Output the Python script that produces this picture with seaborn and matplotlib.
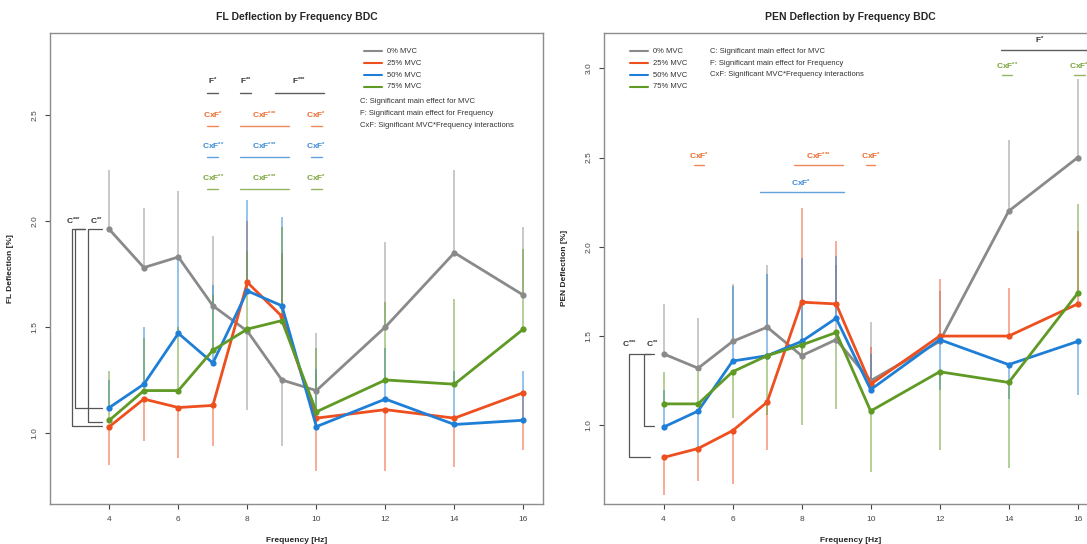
import numpy as np
import pandas as pd
import matplotlib
matplotlib.use("Agg")
import matplotlib.pyplot as plt
import seaborn as sns

# frequencies and MVC levels
freqs = [4, 5, 6, 7, 8, 9, 10, 12, 14, 16]
levels = ["0% MVC", "25% MVC", "50% MVC", "75% MVC"]
colors = ["#8a8a8a", "#ee4f1f", "#1f7fd6", "#5f9a25"]

# FL deflection means [%]
fl_0 = [1.96, 1.78, 1.83, 1.60, 1.48, 1.25, 1.20, 1.50, 1.85, 1.65]
fl_25 = [1.03, 1.16, 1.12, 1.13, 1.71, 1.55, 1.07, 1.11, 1.07, 1.19]
fl_50 = [1.12, 1.23, 1.47, 1.33, 1.67, 1.60, 1.03, 1.16, 1.04, 1.06]
fl_75 = [1.06, 1.20, 1.20, 1.39, 1.49, 1.53, 1.10, 1.25, 1.23, 1.49]
# FL error bar ends (one-sided bars)
fl_0_end = [2.24, 2.06, 2.14, 1.93, 1.11, 0.94, 1.47, 1.90, 2.24, 1.97]
fl_25_end = [0.85, 0.96, 0.88, 0.94, 2.00, 1.85, 0.82, 0.82, 0.84, 0.92]
fl_50_end = [1.25, 1.50, 1.83, 1.70, 2.10, 2.02, 1.30, 1.40, 1.29, 1.29]
fl_75_end = [1.29, 1.45, 1.50, 1.65, 1.86, 1.97, 1.40, 1.62, 1.63, 1.87]

# PEN deflection means [%]
pen_0 = [1.40, 1.32, 1.47, 1.55, 1.39, 1.48, 1.25, 1.47, 2.20, 2.50]
pen_25 = [0.82, 0.87, 0.97, 1.13, 1.69, 1.68, 1.23, 1.50, 1.50, 1.68]
pen_50 = [0.99, 1.08, 1.36, 1.39, 1.47, 1.60, 1.20, 1.48, 1.34, 1.47]
pen_75 = [1.12, 1.12, 1.30, 1.39, 1.45, 1.52, 1.08, 1.30, 1.24, 1.74]
# PEN error bar ends
pen_0_end = [1.68, 1.60, 1.79, 1.90, 1.70, 1.90, 1.58, 1.75, 2.60, 2.94]
pen_25_end = [0.61, 0.69, 0.67, 0.86, 2.22, 2.03, 1.44, 1.82, 1.77, 2.09]
pen_50_end = [1.20, 0.85, 1.78, 1.85, 1.94, 1.95, 1.40, 1.20, 1.15, 1.17]
pen_75_end = [1.30, 1.30, 1.04, 1.06, 1.00, 1.09, 0.74, 0.86, 0.76, 2.24]


def sup(base, n):
    # braces around each star stop mathtext from spacing them as operators
    return base + "$^{" + "{*}" * n + "}$"


# significance annotations: text, x, line from, line to, text y, line y, colour
fl_annot = [
    (sup("F", 1), 7.0, 6.83, 7.15, 2.657, 2.604, "#333333"),
    (sup("F", 2), 7.95, 7.8, 8.1, 2.657, 2.604, "#333333"),
    (sup("F", 3), 9.5, 8.8, 10.22, 2.657, 2.604, "#333333"),
    (sup("CxF", 1), 7.0, 6.83, 7.15, 2.50, 2.45, "#ec6a2e"),
    (sup("CxF", 3), 8.5, 7.79, 9.2, 2.50, 2.45, "#ec6a2e"),
    (sup("CxF", 1), 9.98, 9.84, 10.15, 2.50, 2.45, "#ec6a2e"),
    (sup("CxF", 2), 7.0, 6.83, 7.15, 2.35, 2.30, "#3a8ad6"),
    (sup("CxF", 3), 8.5, 7.79, 9.2, 2.35, 2.30, "#3a8ad6"),
    (sup("CxF", 1), 9.98, 9.84, 10.15, 2.35, 2.30, "#3a8ad6"),
    (sup("CxF", 2), 7.0, 6.83, 7.15, 2.20, 2.15, "#7aa33a"),
    (sup("CxF", 3), 8.5, 7.79, 9.2, 2.20, 2.15, "#7aa33a"),
    (sup("CxF", 1), 9.98, 9.84, 10.15, 2.20, 2.15, "#7aa33a"),
]
pen_annot = [
    (sup("F", 1), 14.9, 13.77, 17.5, 3.155, 3.10, "#333333"),
    (sup("CxF", 2), 13.95, 13.8, 14.1, 3.01, 2.96, "#7aa33a"),
    (sup("CxF", 1), 16.05, 15.9, 16.2, 3.01, 2.96, "#7aa33a"),
    (sup("CxF", 1), 5.02, 4.88, 5.16, 2.505, 2.459, "#ec6a2e"),
    (sup("CxF", 3), 8.49, 7.79, 9.19, 2.505, 2.459, "#ec6a2e"),
    (sup("CxF", 1), 10.0, 9.86, 10.14, 2.505, 2.459, "#ec6a2e"),
    (sup("CxF", 1), 7.98, 6.78, 9.24, 2.356, 2.305, "#3a8ad6"),
]

# C brackets: vertical x, top y, bottom y, right end of top, right end of bottom
fl_brackets = [(2.91, 1.96, 1.033, 3.30, 3.78),
               (3.01, 1.96, 1.116, 3.30, 3.78),
               (3.39, 1.96, 1.053, 3.78, 3.78)]
fl_blabels = [(sup("C", 3), 2.96, 2.0), (sup("C", 2), 3.61, 2.0)]
pen_brackets = [(3.0, 1.40, 0.822, 3.6, 3.6),
                (3.42, 1.40, 0.994, 3.72, 3.72)]
pen_blabels = [(sup("C", 3), 3.02, 1.451), (sup("C", 2), 3.67, 1.451)]

notes = ["C: Significant main effect for MVC",
         "F: Significant main effect for Frequency",
         "CxF: Significant MVC*Frequency interactions"]

sns.set_style("white")
plt.rcParams["font.family"] = ["Liberation Sans", "DejaVu Sans"]
plt.rcParams["mathtext.default"] = "regular"


def long_table(means):
    rows = []
    for lev, vals in zip(levels, means):
        for f, v in zip(freqs, vals):
            rows.append({"freq": f, "value": v, "level": lev})
    return pd.DataFrame(rows)


def draw_panel(ax, means, ends, annots, brackets, blabels, ylim, yticks,
               title, ylabel, leg_x, note_x, note_y0):
    # one-sided error bars first
    for vals, end, col in zip(means, ends, colors):
        vals = np.array(vals)
        end = np.array(end)
        lo = np.clip(vals - end, 0, None)
        hi = np.clip(end - vals, 0, None)
        ax.errorbar(freqs, vals, yerr=[lo, hi], fmt="none", ecolor=col,
                    elinewidth=1.2, alpha=0.55, capsize=0, zorder=1)
    sns.lineplot(data=long_table(means), x="freq", y="value", hue="level",
                 palette=colors, marker="o", markersize=4.5, markeredgewidth=0,
                 linewidth=2.0, legend=False, ax=ax, zorder=3)

    for txt, x, x0, x1, ty, ly, col in annots:
        ax.text(x, ty, txt, color=col, ha="center", va="center",
                fontsize=6, fontweight="bold")
        ax.plot([x0, x1], [ly, ly], color=col, lw=1.0, alpha=0.8)

    for xv, yt, yb, xr_t, xr_b in brackets:
        ax.plot([xr_t, xv, xv, xr_b], [yt, yt, yb, yb], color="#555555",
                lw=0.9, clip_on=False)
    for txt, x, y in blabels:
        ax.text(x, y, txt, ha="center", va="center", fontsize=6,
                fontweight="bold", color="#333333")

    # legend drawn by hand (no frame)
    rows = [0.960, 0.935, 0.910, 0.885]
    for lev, col, ry in zip(levels, colors, rows):
        ax.plot([leg_x, leg_x + 0.037], [ry, ry], color=col, lw=1.5,
                transform=ax.transAxes)
        ax.text(leg_x + 0.047, ry, lev, fontsize=5.5, va="center",
                color="#333333", transform=ax.transAxes)
    for i, note in enumerate(notes):
        ax.text(note_x, note_y0 - i * 0.0248, note, fontsize=5.5,
                va="center", color="#333333", transform=ax.transAxes)

    ax.set_xlim(2.28, 16.56)
    ax.set_ylim(*ylim)
    ax.set_xticks([4, 6, 8, 10, 12, 14, 16])
    ax.set_yticks(yticks)
    ax.set_yticklabels([f"{t:.1f}" for t in yticks], rotation=90, va="center")
    ax.tick_params(axis="both", labelsize=6, colors="#444444", length=3.5,
                   width=0.8, direction="out", left=True, bottom=True, pad=5)
    for sp in ax.spines.values():
        sp.set_color("#8c8c8c")
        sp.set_linewidth(1.0)
    ax.set_xlabel("Frequency [Hz]", fontsize=6, fontweight="bold")
    ax.set_ylabel(ylabel, fontsize=6, fontweight="bold")
    ax.xaxis.set_label_coords(0.5, -0.07)
    ax.yaxis.set_label_coords(-0.074, 0.5)
    ax.text(0.5, 1.033, title, transform=ax.transAxes, ha="center",
            va="center", fontsize=7.5, fontweight="bold")


fig = plt.figure(figsize=(10.87, 5.44), dpi=100)
ax1 = fig.add_axes([0.046, 0.0735, 0.4533, 0.8665])
ax2 = fig.add_axes([0.5559, 0.0735, 0.4533, 0.8665])

draw_panel(ax1, [fl_0, fl_25, fl_50, fl_75],
           [fl_0_end, fl_25_end, fl_50_end, fl_75_end],
           fl_annot, fl_brackets, fl_blabels, (0.665, 2.888),
           [1.0, 1.5, 2.0, 2.5], "FL Deflection by Frequency BDC",
           "FL Deflection [%]", 0.637, 0.629, 0.853)
draw_panel(ax2, [pen_0, pen_25, pen_50, pen_75],
           [pen_0_end, pen_25_end, pen_50_end, pen_75_end],
           pen_annot, pen_brackets, pen_blabels, (0.559, 3.20),
           [1.0, 1.5, 2.0, 2.5, 3.0], "PEN Deflection by Frequency BDC",
           "PEN Deflection [%]", 0.052, 0.214, 0.960)

fig.savefig("out.png", dpi=100)
